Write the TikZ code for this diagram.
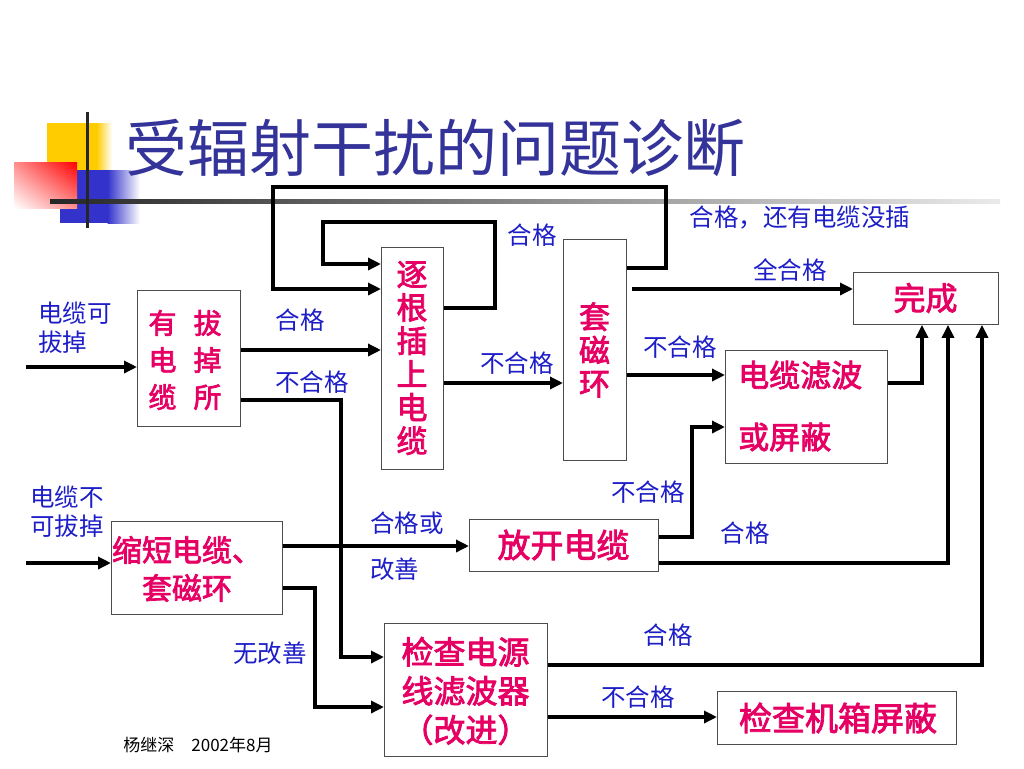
\documentclass[tikz,border=0pt]{standalone}
\usepackage{fontspec}
\newfontfamily\cjk{Noto Sans CJK SC}
\newfontfamily\cjkr[FakeBold=2.5]{Noto Sans CJK SC}
\usetikzlibrary{arrows.meta,shadings}
\definecolor{lblue}{RGB}{30,30,200}
\definecolor{tblue}{RGB}{51,51,153}
\definecolor{rtext}{RGB}{230,0,100}
\definecolor{yel}{RGB}{255,204,0}
\definecolor{blu}{RGB}{51,51,204}
\begin{document}
\begin{tikzpicture}[x=1pt,y=-1pt,
  box/.style={draw=black!70,line width=0.9pt,fill=white,inner sep=0pt,anchor=north west},
  conn/.style={line width=4pt,-{Triangle[length=13pt,width=12pt]}},
  lbl/.style={text=lblue,font=\cjk\fontsize{24.5}{29}\selectfont,inner sep=0pt},
  rt/.style={text=rtext,font=\cjkr\fontsize{31}{33.3}\selectfont,inner sep=0pt}]
\useasboundingbox (0,0) rectangle (1024,768);
\fill[white] (0,0) rectangle (1024,768);
% logo
\fill[yel] (47,123) rectangle (97,170);
\shade[left color=yel,right color=white] (96.5,123) rectangle (112,170);
\fill[blu] (60,170) rectangle (108,223);
\shade[left color=blu,right color=white] (107.5,170) rectangle (140,223);
\shade[upper left=red!45,upper right=red,lower left=white,lower right=red!45] (14,162) rectangle (77,208);
\shade[left color=black!85,right color=black!8] (50,199) rectangle (1000,203.5);
\draw[line width=3pt,black!85] (87,112) -- (87,228);
% title
\node[text=tblue,font=\cjk\fontsize{62}{62}\selectfont,inner sep=0pt] (title) at (435,148) {受辐射干扰的问题诊断};
% boxes
\node[box,minimum width=103pt,minimum height=136pt] (b1) at (137,290) {};
\node[rt,font=\cjkr\fontsize{28}{37}\selectfont,align=center] (t1) at (185,360) {有\hspace{17pt}拔\\电\hspace{17pt}掉\\缆\hspace{17pt}所};
\node[box,minimum width=62pt,minimum height=222pt] (b2) at (381,247) {};
\node[rt,align=center] (t2) at (412,358) {逐\\根\\插\\上\\电\\缆};
\node[box,minimum width=63pt,minimum height=221pt] (b3) at (563,239) {};
\node[rt,align=center] (t3) at (594.5,350) {套\\磁\\环};
\node[box,minimum width=145pt,minimum height=52pt] (b4) at (853,272) {};
\node[rt,font=\cjkr\fontsize{32}{34}\selectfont] (t4) at (925.5,298) {完成};
\node[box,minimum width=162pt,minimum height=113pt] (b5) at (725,350) {};
\node[rt,font=\cjkr\fontsize{31}{62}\selectfont,align=left,anchor=west] (t5) at (738,406) {电缆滤波\\或屏蔽};
\node[box,minimum width=171pt,minimum height=93pt] (b6) at (111,521) {};
\node[rt,font=\cjkr\fontsize{30}{38}\selectfont,align=center] (t6) at (187,569) {缩短电缆、\\套磁环};
\node[box,minimum width=189pt,minimum height=52pt] (b7) at (469,519) {};
\node[rt,font=\cjkr\fontsize{33}{34}\selectfont] (t7) at (563.5,545) {放开电缆};
\node[box,minimum width=163pt,minimum height=133pt] (b8) at (384,623) {};
\node[rt,font=\cjkr\fontsize{32}{39}\selectfont,align=center] (t8) at (465.5,691) {检查电源\\线滤波器\\（改进）};
\node[box,minimum width=239pt,minimum height=53pt] (b9) at (717,691) {};
\node[rt,font=\cjkr\fontsize{33}{34}\selectfont] (t9) at (838,718) {检查机箱屏蔽};
% connectors
\coordinate (in1) at (26,367);
\draw[conn] (in1) -- (in1 -| b1.west);
\draw[conn] (b1.east |- 0,350) -- (b2.west |- 0,350);
\draw[conn] (b1.east |- 0,400) -- (341,400) -- (341,657) -- (b8.west |- 0,657);
\draw[conn] (b2.east |- 0,308) -- (495,308) -- (495,222) -- (323,222) -- (323,264) -- (b2.west |- 0,264);
\draw[conn] (b3.east |- 0,268) -- (666,268) -- (666,187) -- (273,187) -- (273,289) -- (b2.west |- 0,289);
\draw[conn] (b2.east |- 0,383) -- (b3.west |- 0,383);
\coordinate (s1) at (632,289);
\draw[conn] (s1) -- (s1 -| b4.west);
\draw[conn] (b3.east |- 0,375) -- (b5.west |- 0,375);
\draw[conn] (b5.east |- 0,383) -- (922,383) -- (b4.south -| 922,0);
\draw[conn] (b7.east |- 0,537) -- (692,537) -- (692,427) -- (b5.west |- 0,427);
\draw[conn] (b7.east |- 0,563) -- (948,563) -- (b4.south -| 948,0);
\draw[conn] (b8.east |- 0,665) -- (982,665) -- (b4.south -| 982,0);
\draw[conn] (b8.east |- 0,717) -- (b9.west |- 0,717);
\coordinate (in2) at (26,563);
\draw[conn] (in2) -- (in2 -| b6.west);
\draw[conn] (b6.east |- 0,546) -- (b7.west |- 0,546);
\draw[conn] (b6.east |- 0,588) -- (315,588) -- (315,707) -- (b8.west |- 0,707);
% labels
\node[lbl] (l1) at (532,235) {合格};
\node[lbl] (l2) at (300,320) {合格};
\node[lbl] (l3) at (312,382) {不合格};
\node[lbl] (l4) at (517,363) {不合格};
\node[lbl] (l5) at (800,217) {合格，还有电缆没插};
\node[lbl] (l6) at (790,270) {全合格};
\node[lbl] (l7) at (680,347) {不合格};
\node[lbl,align=left,anchor=west] (l8) at (38,327.5) {电缆可\\拔掉};
\node[lbl,align=left,anchor=west] (l9) at (30,512) {电缆不\\可拔掉};
\node[lbl,anchor=west] (l10) at (370,523) {合格或};
\node[lbl,anchor=west] (l11) at (370,569) {改善};
\node[lbl] (l12) at (270,653) {无改善};
\node[lbl] (l13) at (648,492) {不合格};
\node[lbl] (l14) at (745,533) {合格};
\node[lbl] (l15) at (668,635) {合格};
\node[lbl] (l16) at (638,697) {不合格};
\node[font=\cjk\fontsize{17}{20}\selectfont,inner sep=0pt] (foot) at (198,745) {杨继深\quad 2002年8月};
\end{tikzpicture}
\end{document}
